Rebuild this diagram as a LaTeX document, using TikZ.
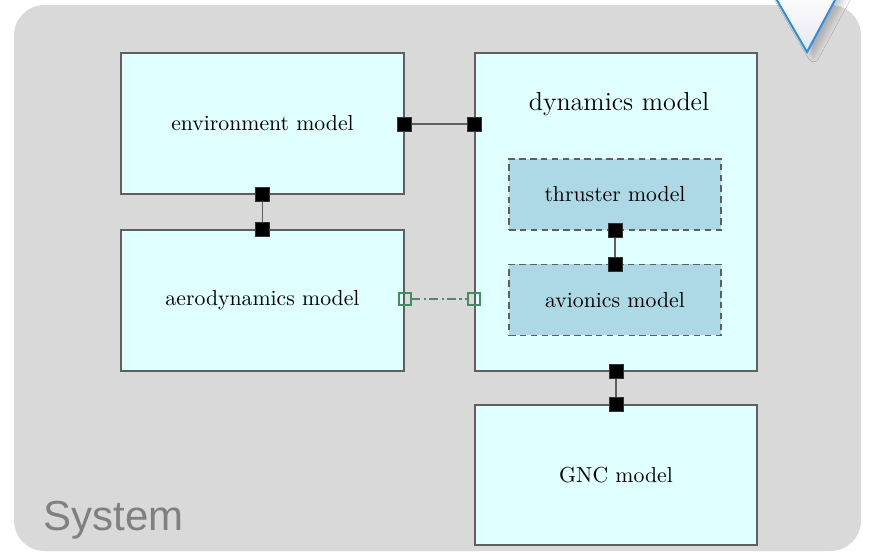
\documentclass[tikz,border=0pt]{standalone}
\usepackage{fontspec}
\newfontfamily\sysfont{Liberation Sans}
\usetikzlibrary{shadows.blur}
\definecolor{sysgray}{HTML}{D9D9D9}
\definecolor{modelfill}{HTML}{E0FFFF}
\definecolor{subfill}{HTML}{ADD8E6}
\definecolor{boxline}{HTML}{5F5F5F}
\definecolor{portgreen}{HTML}{3F8F5F}
\definecolor{markblue}{HTML}{2B8EE0}
\definecolor{marklav}{HTML}{E6E6F2}
\newcommand{\pxu}{0.46pt}
\tikzset{
  model/.style={rectangle, draw=boxline, fill=modelfill, line width=0.55pt, inner sep=0pt},
  submodel/.style={rectangle, draw=boxline, fill=subfill, line width=0.55pt, dashed, dash pattern=on 3pt off 2pt, inner sep=0pt, minimum width=212*\pxu, minimum height=71*\pxu},
  port/.style={rectangle, fill=black, draw=black!80, line width=0.3pt, inner sep=0pt, minimum size=14*\pxu},
  gport/.style={rectangle, draw=portgreen, line width=0.9pt, inner sep=0pt, minimum size=12*\pxu},
  link/.style={draw=boxline, line width=0.55pt},
  glink/.style={draw=portgreen!70!gray, line width=0.7pt, dash pattern=on 4pt off 1.6pt on 1pt off 1.6pt}
}

\begin{document}
\begin{tikzpicture}[x=\pxu, y=-\pxu]
\useasboundingbox (0,0) rectangle (869,553);
\fill[white] (0,0) rectangle (869,553);
\fill[sysgray, rounded corners=14pt] (14,5) rectangle (861,551);

% model blocks
\node[model, minimum width=283*\pxu, minimum height=141*\pxu] (env) at (262.5,123.5) {environment model};
\node[model, minimum width=283*\pxu, minimum height=141*\pxu] (aero) at (262.5,300.5) {aerodynamics model};
\node[model, minimum width=282*\pxu, minimum height=318*\pxu] (dyn) at (616,212) {};
\node[model, minimum width=282*\pxu, minimum height=140*\pxu] (gnc) at (616,475) {GNC model};
\node[] (dyntitle) at (619,104) {\large dynamics model};
\node[submodel] (thr) at (615,194.5) {thruster model};
\node[submodel] (avi) at (615,300) {avionics model};

% ports
\node[port] (envE) at (env.east |- 0,124) {};
\node[port] (dynW) at (dyn.west |- 0,124) {};
\node[port] (envS) at (env.south) {};
\node[port] (aeroN) at (aero.north) {};
\node[port] (thrS) at (thr.south) {};
\node[port] (aviN) at (avi.north) {};
\node[port] (dynS) at (gnc.north |- dyn.south) {};
\node[port] (gncN) at (gnc.north) {};
\node[gport] (aeroE) at (aero.east |- 0,299) {};
\node[gport] (dynG) at (dyn.west |- 0,299) {};

\draw[link] (envE) -- (dynW);
\draw[link] (envS) -- (aeroN);
\draw[link] (thrS) -- (aviN);
\draw[link] (dynS) -- (gncN);
\draw[glink] (aeroE) -- (dynG);

\node[anchor=base west, inner sep=0pt, text=black!50] (sys) at (43,530) {\sysfont\fontsize{19.3}{22}\selectfont System};

% marker at the top
\begin{scope}
\clip (0,0) rectangle (869,553);
\filldraw[draw=markblue, line width=0.9pt, top color=white, bottom color=marklav,
  blur shadow={shadow xshift=3pt, shadow yshift=-2pt, shadow blur radius=2.5pt, shadow blur steps=8, shadow opacity=20}]
  (771,-10) -- (840.4,-10) -- (807,52) -- cycle;
\end{scope}
\end{tikzpicture}
\end{document}
